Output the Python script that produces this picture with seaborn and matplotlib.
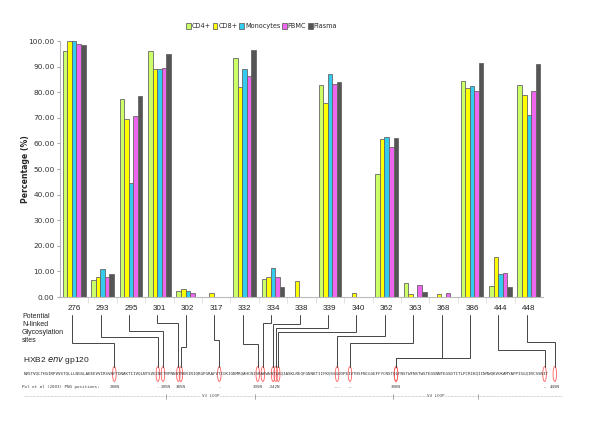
import numpy as np
import pandas as pd
import matplotlib
matplotlib.use("Agg")
import matplotlib.pyplot as plt
import seaborn as sns
from matplotlib.patches import Ellipse
from matplotlib.ticker import StrMethodFormatter, FixedLocator

# glycosylation sites (x categories)
sites = ["276", "293", "295", "301", "302", "317", "332", "334", "338",
         "339", "340", "362", "363", "368", "386", "444", "448"]
cells = ["CD4+", "CD8+", "Monocytes", "PBMC", "Plasma"]

# percentage of sequences carrying each site (0 = no bar)
cd4 = [96.2, 6.7, 77.5, 96.2, 2.5, 0, 93.5, 6.9, 0, 82.9, 0, 48.2, 5.3, 0, 84.2, 4.2, 82.9]
cd8 = [100.0, 7.7, 69.4, 89.2, 3.0, 1.5, 81.9, 7.7, 6.1, 75.6, 1.5, 61.6, 1.0, 1.0, 81.8, 15.5, 78.8]
mono = [100.0, 11.1, 44.5, 88.9, 2.3, 0, 89.0, 11.2, 0, 87.0, 0, 62.4, 0, 0, 82.3, 8.9, 71.2]
pbmc = [98.7, 7.7, 70.8, 89.3, 1.5, 0, 86.2, 7.7, 0, 83.3, 0, 58.6, 4.7, 1.4, 80.3, 9.3, 80.3]
plasma = [98.4, 9.1, 78.4, 94.9, 0, 0, 96.5, 3.9, 0, 83.9, 0, 62.0, 2.0, 0, 91.3, 3.9, 91.1]

# HXB2 env gp120 stretch and where each site sits in it (0-based residue index)
seq = ("NVSTVQCTHGIRPVVSTQLLLNGSLAEEEVVIRSVNFTDNAKTIIVQLNTSVEINCTRPNNNTRKRIRIQ"
       "RGPGRAFVTIGKIGNMRQAHCNISRAKWNNTLKQIASKLREQFGNNKTIIFKQSSGGDPEIVTHSFNCGG"
       "EFFYCNSTQLFNSTWFNSTWSTEGSNNTEGSDTITLPCRIKQIINMWQKVGKAMYAPPISGQIRCSSNIT")
seq_idx = [35, 52, 54, 60, 61, 76, 91, 93, 97, 98, 99, 122, 127, 145, 145, 203, 207]
# connector elbow height (pixels from top)
elbow_y = [343, 337, 331, 323, 347, 340, 344, 323, 324, 328, 332, 336, 343, 358, 358, 350, 342]

pol_labels = ["288N", "-", "295N", "305N", "-", "335N", "-342N", "---", "--", "398N", "--", "449N"]
pol_idx = [35, 52, 55, 61, 76, 91, 97, 122, 127, 145, 203, 207]
v3_loop = (55, 90)
v4_loop = (144, 177)

palette = {"CD4+": "#ccff66", "CD8+": "#ffff00", "Monocytes": "#33ccee",
           "PBMC": "#ee66ee", "Plasma": "#555555"}

df = pd.DataFrame({
    "site": np.repeat(sites, len(cells)),
    "cell": cells * len(sites),
    "value": np.array([cd4, cd8, mono, pbmc, plasma]).T.ravel(),
})
df["value"] = df["value"].replace(0, np.nan)

sns.set_style("white")
plt.rcParams["font.family"] = ["DejaVu Sans"]

fig = plt.figure(figsize=(6, 4.24), dpi=100)
ax = fig.add_axes([0.1, 0.2995, 0.805, 0.6038])

sns.barplot(data=df, x="site", y="value", hue="cell", order=sites,
            hue_order=cells, palette=palette, width=0.8, errorbar=None,
            edgecolor="#666666", linewidth=0.6, saturation=1, ax=ax)

ax.set_xlim(-0.5, len(sites) - 0.5)
ax.set_ylim(0, 100)
ax.set_yticks(np.arange(0, 101, 10))
ax.yaxis.set_major_formatter(StrMethodFormatter("{x:.2f}"))
ax.tick_params(axis="y", labelsize=5.3, labelcolor="#333333", length=2,
               color="#aaaaaa", pad=2, left=True)
ax.tick_params(axis="x", which="major", length=0, pad=6, labelsize=5.8,
               labelcolor="#222222")
for lab in ax.get_xticklabels():
    lab.set_family("Liberation Sans")
ax.xaxis.set_minor_locator(FixedLocator(np.arange(0.5, len(sites) - 1, 1)))
ax.tick_params(axis="x", which="minor", length=4, color="#dddddd", bottom=True)
ax.set_xlabel("")
ax.set_ylabel("Percentage (%)", fontsize=5.6, fontweight="bold", labelpad=0)
ax.yaxis.set_label_coords(-0.062, 0.5)
sns.despine(ax=ax)
for s in ("left", "bottom"):
    ax.spines[s].set_color("#bbbbbb")
    ax.spines[s].set_linewidth(0.8)

handles, labels = ax.get_legend_handles_labels()
ax.legend(handles, labels, loc="center", bbox_to_anchor=(0.436, 0.939),
          bbox_transform=fig.transFigure, ncol=5, frameon=False, fontsize=4.7,
          handlelength=0.75, handleheight=1.0, handletextpad=0.15,
          columnspacing=0.25, borderaxespad=0)

# overlay in pixel coordinates for the sequence diagram
ov = fig.add_axes([0, 0, 1, 1])
ov.set_xlim(0, 600)
ov.set_ylim(424, 0)
ov.axis("off")
ov.patch.set_alpha(0)

x0, cw, seq_y = 23.4, 2.561, 374
fs_mono = cw * 0.72 / 0.602

def res_x(i):
    return x0 + (i + 0.5) * cw

ov.text(22, 313, "Potential\nN-linked\nGlycosylation\nsites", fontsize=5,
        family="Liberation Sans", va="top", ha="left", linespacing=1.2,
        color="#222222")
ov.text(23, 360, r"HXB2 $\it{env}$ gp120", fontsize=6, family="Liberation Sans",
        va="center", ha="left", color="#222222")
ov.text(x0, seq_y, seq, family="DejaVu Sans Mono", fontsize=fs_mono,
        va="center", ha="left", color="#333333")

for i, site in enumerate(sites):
    lx = ax.transData.transform((i, 0))[0] - 2
    sx = res_x(seq_idx[i])
    ey = elbow_y[i]
    ov.plot([lx, lx, sx, sx], [315, ey, ey, 367], color="#444444", lw=0.7,
            solid_joinstyle="miter")
    ov.add_patch(Ellipse((sx, seq_y), width=3.5, height=15, fill=False,
                         ec="#ff6060", lw=0.6))

ov.text(22, 387, "Pol et al (2003) PNG positions:", family="DejaVu Sans Mono",
        fontsize=fs_mono, va="center", ha="left", color="#444444")
for lab, i in zip(pol_labels, pol_idx):
    ov.text(res_x(i), 387, lab, family="DejaVu Sans Mono", fontsize=fs_mono,
            va="center", ha="center", color="#444444")

ov.plot([24, 562], [396, 396], color="#aaaaaa", lw=0.5, ls=(0, (1, 1)))
for a, b, name in [(v3_loop[0], v3_loop[1], "V3 LOOP"), (v4_loop[0], v4_loop[1], "V4 LOOP")]:
    for i in (a, b):
        ov.plot([res_x(i), res_x(i)], [393.5, 398.5], color="#888888", lw=0.5)
    ov.text((res_x(a) + res_x(b)) / 2, 396, name, family="DejaVu Sans Mono",
            fontsize=fs_mono, ha="center", va="center", color="#555555",
            bbox=dict(fc="white", ec="none", pad=0.3))

fig.savefig("out.png", dpi=100)
